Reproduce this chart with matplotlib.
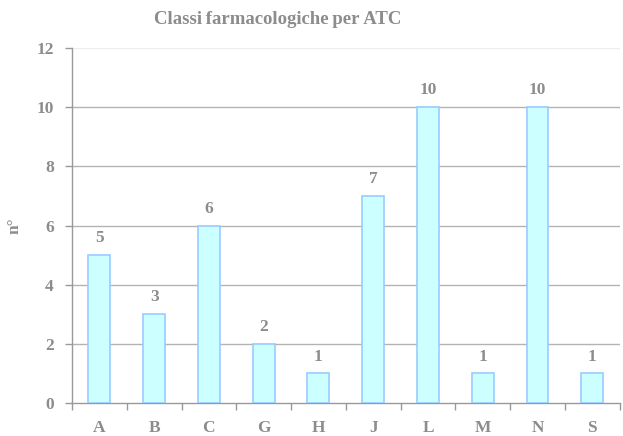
import matplotlib.pyplot as plt
import numpy as np

classi = ['A', 'B', 'C', 'G', 'H', 'J', 'L', 'M', 'N', 'S']
conteggi = [5, 3, 6, 2, 1, 7, 10, 1, 10, 1]

grigio = '#8c8c8c'
plt.rcParams['font.family'] = ['Liberation Serif', 'DejaVu Serif']
plt.rcParams['font.weight'] = 'bold'

fig = plt.figure(figsize=(6.23, 4.36), dpi=100)
ax = fig.add_axes([0.1156, 0.0757, 0.879, 0.814])

x = np.arange(len(classi))
bars = ax.bar(x, conteggi, width=0.4, color='#ccffff', edgecolor='#99ccff', linewidth=1.2, zorder=3)
for xi, v in zip(x, conteggi):
    ax.text(xi, v + 0.3, str(v), ha='center', va='bottom', fontsize=12.5,
            fontweight='bold', color=grigio)

ax.set_xlim(-0.5, len(classi) - 0.5)
ax.set_ylim(0, 12)
ax.set_yticks(range(0, 13, 2))
for yv in range(2, 11, 2):
    ax.axhline(yv, color='#b3b3b3', linewidth=1.0, zorder=0)
ax.axhline(12, color='#eeeeee', linewidth=1.0, zorder=0)
ax.set_xticks(x)
ax.set_xticklabels(classi)
ax.set_xticks(np.arange(-0.5, len(classi)), minor=True)
ax.tick_params(axis='x', which='major', length=0, pad=12, labelsize=12.5, labelcolor=grigio)
ax.tick_params(axis='x', which='minor', length=5, color='#999999', width=1)
ax.tick_params(axis='y', length=5, color='#999999', width=1, labelsize=12.5, labelcolor=grigio, pad=8)

for s in ['top', 'right']:
    ax.spines[s].set_visible(False)
for s in ['left', 'bottom']:
    ax.spines[s].set_color('#999999')
    ax.spines[s].set_linewidth(1)

ax.set_ylabel('n°', fontsize=12.5, fontweight='bold', color=grigio, labelpad=12)
ax.yaxis.set_label_coords(-0.09, 0.5)
# titolo con lettere leggermente spaziate
fig.text(278 / 623, 1 - 20 / 436, 'Classi\u2009farmacologiche\u2009per\u2009ATC', ha='center', va='center',
         fontsize=13.5, fontweight='bold', color=grigio)

fig.savefig('out.png', dpi=100)
